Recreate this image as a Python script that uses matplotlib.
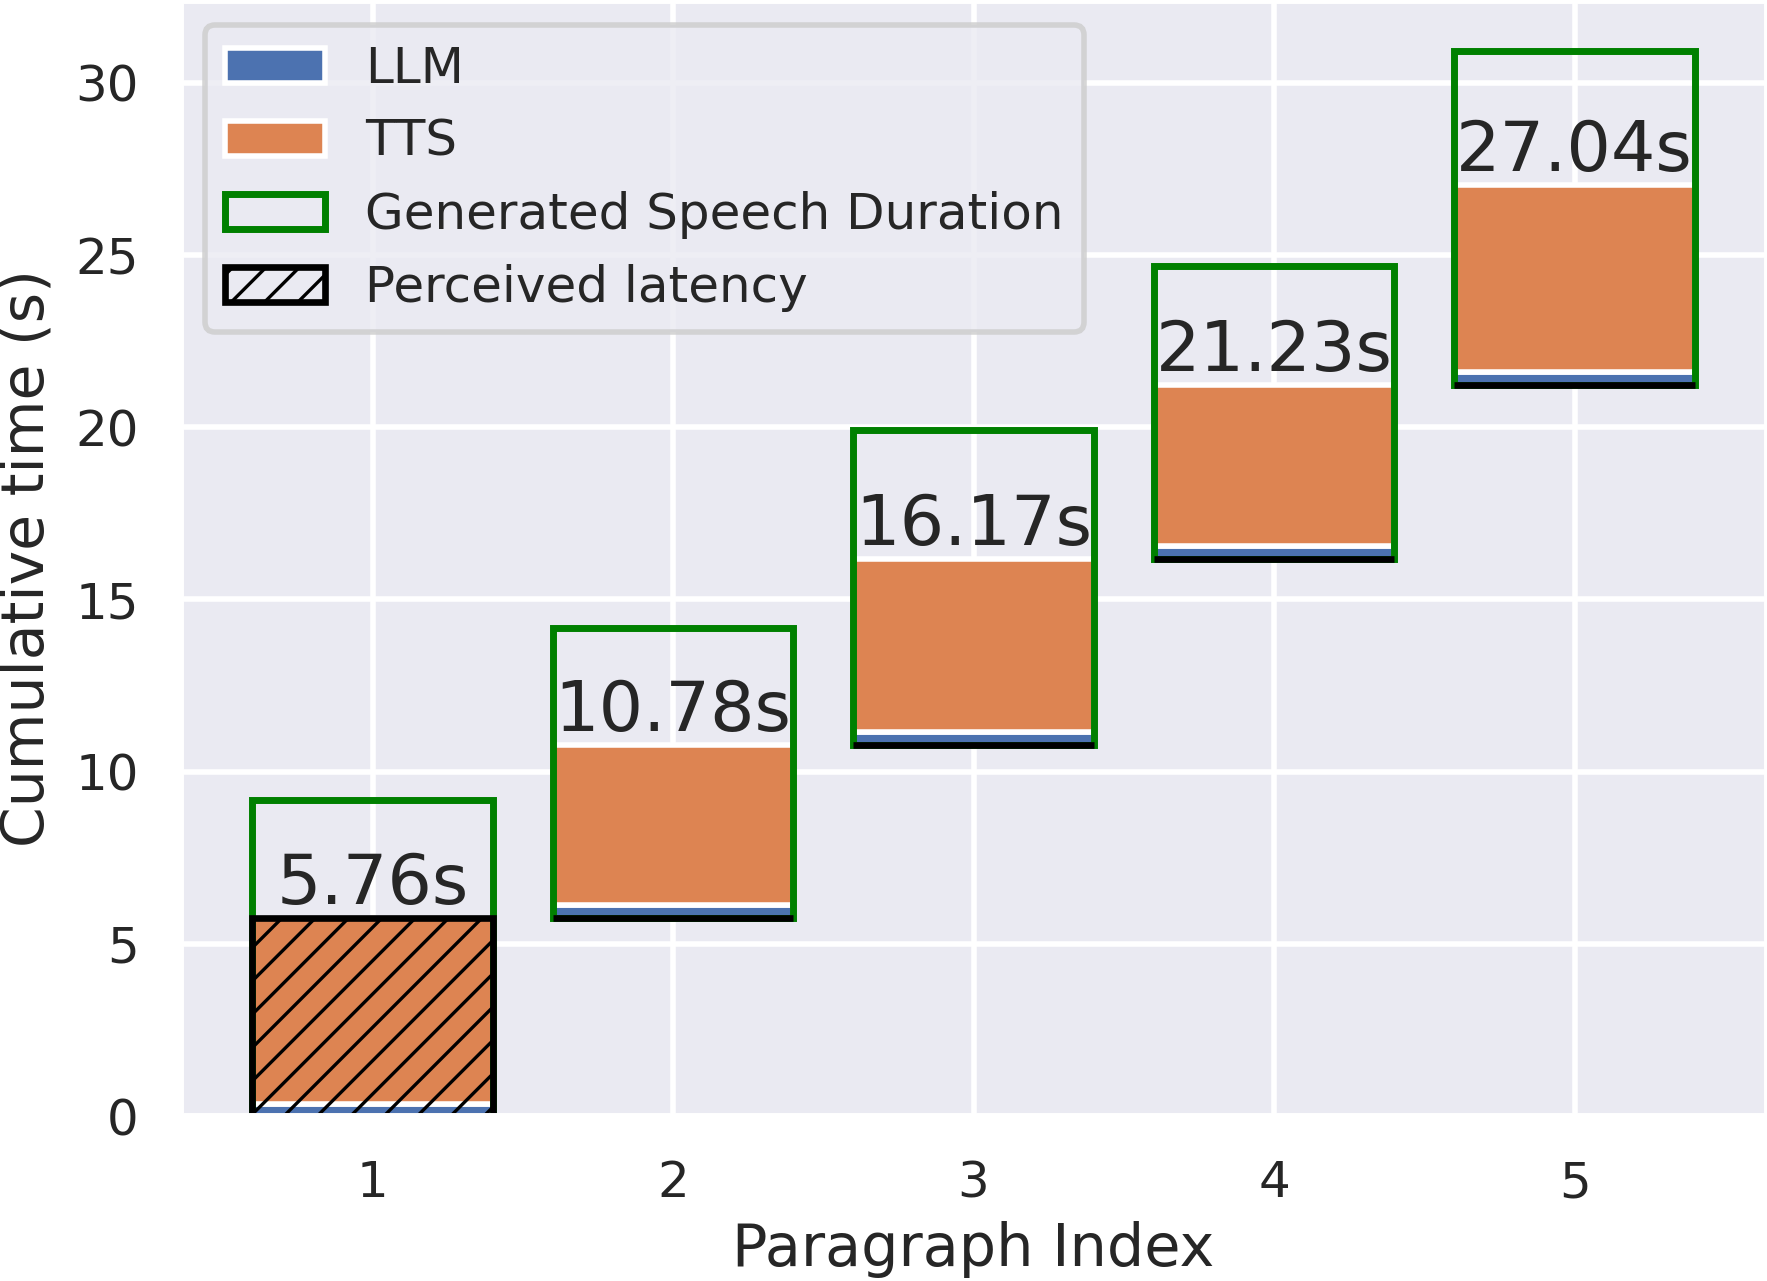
import matplotlib
matplotlib.use('Agg')
import matplotlib.pyplot as plt
import seaborn as sns
import numpy as np
from matplotlib.patches import Patch

sns.set_theme(style='darkgrid')
plt.rcParams['font.family'] = ['DejaVu Sans']
plt.rcParams['hatch.linewidth'] = 0.6

# data
paragraphs = [1, 2, 3, 4, 5]
start_time = [0.0, 5.76, 10.78, 16.17, 21.23]
llm_time = [0.35, 0.36, 0.36, 0.37, 0.38]
tts_done = [5.76, 10.78, 16.17, 21.23, 27.04]
speech_duration = [9.18, 8.42, 9.13, 8.52, 9.71]
perceived_latency = [5.76, 0.0, 0.0, 0.0, 0.0]

start = np.array(start_time)
llm = np.array(llm_time)
tts = np.array(tts_done) - start - llm

blue, orange = sns.color_palette('deep')[0], sns.color_palette('deep')[1]

fig = plt.figure(figsize=(1767 / 400, 1281 / 400), dpi=400)
ax = fig.add_axes([0.102, 0.1288, 0.898, 0.8712])

w = 0.8
ax.bar(paragraphs, llm, w, bottom=start, color=blue, label='LLM')
ax.bar(paragraphs, tts, w, bottom=start + llm, color=orange, label='TTS')
ax.bar(paragraphs, speech_duration, w, bottom=start, fill=False,
       edgecolor='green', linewidth=1.25, label='Generated Speech Duration')
ax.bar(paragraphs, perceived_latency, w, bottom=start, fill=False,
       edgecolor='black', linewidth=1.2, hatch='////', label='Perceived latency')

for x, y in zip(paragraphs, tts_done):
    ax.text(x, y, f'{y:.2f}s', ha='center', va='bottom', fontsize=12.6,
            color='#262626')

ax.set_xlim(0.36, 5.64)
ax.set_ylim(0, 32.41)
ax.set_xticks(paragraphs)
ax.set_yticks([0, 5, 10, 15, 20, 25, 30])
ax.tick_params(labelsize=9)
ax.tick_params(axis='x', pad=plt.rcParams['xtick.major.pad'] - 1.7)
ax.tick_params(axis='y', pad=plt.rcParams['ytick.major.pad'] - 2.0)
ax.set_xlabel('Paragraph Index', fontsize=10.6, labelpad=2.5)
ax.set_ylabel('Cumulative time (s)', fontsize=10.5, labelpad=3.5)

handles = [
    Patch(facecolor=blue, edgecolor='white', label='LLM'),
    Patch(facecolor=orange, edgecolor='white', label='TTS'),
    Patch(fill=False, edgecolor='green', linewidth=1.25,
          label='Generated Speech Duration'),
    Patch(fill=False, edgecolor='black', linewidth=1.2, hatch='////',
          label='Perceived latency'),
]
ax.legend(handles=handles, loc='upper left', fontsize=9, labelspacing=0.5)

fig.savefig('out.png', dpi=400)
